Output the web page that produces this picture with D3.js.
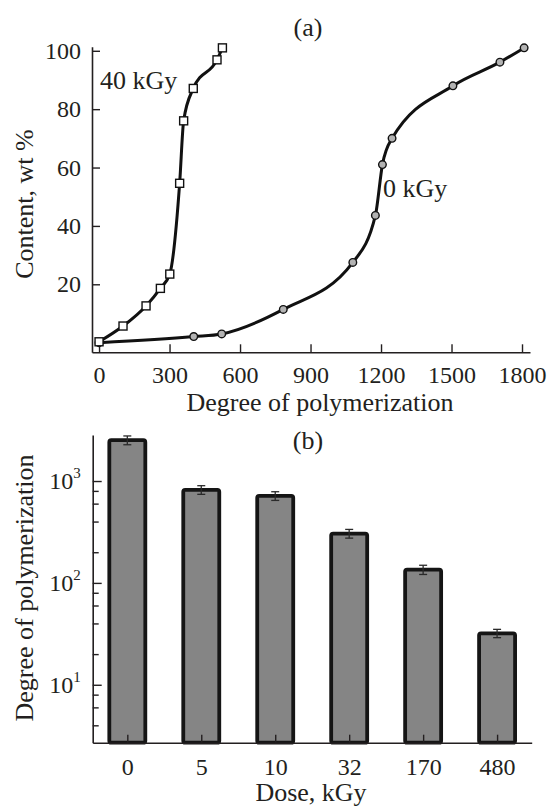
<!DOCTYPE html>
<html>
<head>
<meta charset="utf-8">
<script src="https://cdn.jsdelivr.net/npm/d3@7"></script>
<style>
  html, body { margin: 0; padding: 0; background: #fff; }
  svg { display: block; }
  text { font-family: "Liberation Serif", "Times New Roman", serif; fill: #231f20; }
</style>
</head>
<body>
<svg id="chart" width="549" height="808"></svg>
<script>
// ---------- Data: panel (a) ----------
const xTicksA = [0, 300, 600, 900, 1200, 1500, 1800];
const yTicksA = [20, 40, 60, 80, 100];
const dp40 = [0, 102, 200, 261, 301, 343, 360, 401, 502, 525];
const content40 = [0.3, 5.7, 12.6, 18.6, 23.5, 54.6, 76, 87.1, 96.9, 101];
const dp0 = [0, 403, 522, 784, 1080, 1176, 1206, 1247, 1506, 1706, 1809];
const content0 = [0, 2.1, 3, 11.4, 27.5, 43.6, 61, 70, 88, 96.1, 101];
const seriesLabels = ["40 kGy", "0 kGy"];

// ---------- Data: panel (b) ----------
const doses = ["0", "5", "10", "32", "170", "480"];
const dpValues = [2520, 820, 715, 305, 135, 32];
const dpErrors = [250, 80, 70, 30, 14, 3];
const yMajorB = [10, 100, 1000];
const yMinorB = [4, 6, 8, 20, 40, 60, 80, 200, 400, 600, 800];

const svg = d3.select("#chart");
const TICK_FS = 24, TITLE_FS = 26;
const ink = "#231f20";
const serif = '"Liberation Serif", "Times New Roman", serif';

// ================= Panel (a) =================
const xA = d3.scaleLinear().domain([-30, 1834]).range([92, 530]);
const yA = d3.scaleLinear().domain([-3.3, 101.4]).range([352.3, 46.7]);

const gA = svg.append("g");

const lineA = d3.line().x(d => xA(d[0])).y(d => yA(d[1])).curve(d3.curveMonotoneX);
const pts40 = dp40.map((d, i) => [d, content40[i]]);
const pts0 = dp0.map((d, i) => [d, content0[i]]);

gA.append("path").attr("d", lineA(pts0)).attr("fill", "none")
  .attr("stroke", "#111").attr("stroke-width", 3);
gA.append("path").attr("d", lineA(pts40)).attr("fill", "none")
  .attr("stroke", "#111").attr("stroke-width", 3);

const axA_x = gA.append("g").attr("transform", `translate(0,${yA.range()[0]})`)
  .call(d3.axisBottom(xA).tickValues(xTicksA).tickSizeInner(-8).tickSizeOuter(0).tickPadding(14).tickFormat(d3.format("d")));
const axA_y = gA.append("g").attr("transform", `translate(${xA.range()[0]},0)`)
  .call(d3.axisLeft(yA).tickValues(yTicksA).tickSizeInner(-8).tickSizeOuter(0).tickPadding(11));
[axA_x, axA_y].forEach(a => {
  a.selectAll("path.domain").attr("stroke", ink).attr("stroke-width", 1.6);
  a.selectAll(".tick line").attr("stroke", ink).attr("stroke-width", 1.4);
  a.selectAll("text").attr("font-size", TICK_FS).attr("fill", ink).style("font-family", serif);
});

gA.selectAll("circle.m0").data(pts0).join("circle").attr("class", "m0")
  .attr("cx", d => xA(d[0])).attr("cy", d => yA(d[1])).attr("r", 3.8)
  .attr("fill", "#b3b3b3").attr("stroke", "#111").attr("stroke-width", 1.4);
gA.selectAll("rect.m40").data(pts40).join("rect").attr("class", "m40")
  .attr("x", d => xA(d[0]) - 4).attr("y", d => yA(d[1]) - 4)
  .attr("width", 8).attr("height", 8)
  .attr("fill", "#fff").attr("stroke", "#111").attr("stroke-width", 1.4);

gA.append("text").attr("x", 100).attr("y", 89).attr("font-size", TITLE_FS).text(seriesLabels[0]);
gA.append("text").attr("x", 383).attr("y", 197).attr("font-size", TITLE_FS).text(seriesLabels[1]);
gA.append("text").attr("x", 308).attr("y", 36).attr("text-anchor", "middle").attr("font-size", TITLE_FS).text("(a)");

gA.append("text").attr("x", 320).attr("y", 411).attr("text-anchor", "middle")
  .attr("font-size", TITLE_FS).text("Degree of polymerization");
gA.append("text").attr("transform", "translate(33,204) rotate(-90)").attr("text-anchor", "middle")
  .attr("font-size", TITLE_FS).text("Content, wt %");

// ================= Panel (b) =================
const xB = d3.scalePoint().domain(doses).range([92.7, 531.7]).padding(0.468);
const yB = d3.scaleLog().domain([2.7, 2830]).range([742.7, 435]);
const barW = 36;

const gB = svg.append("g");

gB.selectAll("rect.bar").data(doses).join("rect").attr("class", "bar")
  .attr("x", d => xB(d) - barW / 2)
  .attr("y", (d, i) => yB(dpValues[i]))
  .attr("width", barW)
  .attr("height", (d, i) => yB.range()[0] - yB(dpValues[i]))
  .attr("rx", 2).attr("ry", 2)
  .attr("fill", "#858585").attr("stroke", "#151515").attr("stroke-width", 3.8)
  .attr("stroke-linejoin", "round");

const eb = gB.selectAll("g.err").data(doses).join("g").attr("class", "err");
eb.append("line")
  .attr("x1", d => xB(d)).attr("x2", d => xB(d))
  .attr("y1", (d, i) => yB(dpValues[i] + dpErrors[i]))
  .attr("y2", (d, i) => yB(dpValues[i] - dpErrors[i]))
  .attr("stroke", "#2a2a2a").attr("stroke-width", 1.3);
eb.append("line")
  .attr("x1", d => xB(d) - 4).attr("x2", d => xB(d) + 4)
  .attr("y1", (d, i) => yB(dpValues[i] + dpErrors[i]))
  .attr("y2", (d, i) => yB(dpValues[i] + dpErrors[i]))
  .attr("stroke", "#2a2a2a").attr("stroke-width", 1.3);
eb.append("line")
  .attr("x1", d => xB(d) - 4).attr("x2", d => xB(d) + 4)
  .attr("y1", (d, i) => yB(dpValues[i] - dpErrors[i]))
  .attr("y2", (d, i) => yB(dpValues[i] - dpErrors[i]))
  .attr("stroke", "#2a2a2a").attr("stroke-width", 1.3);

const axB_x = gB.append("g").attr("transform", `translate(0,${yB.range()[0]})`)
  .call(d3.axisBottom(xB).tickSizeInner(-8).tickSizeOuter(0).tickPadding(15));
const axB_y = gB.append("g").attr("transform", `translate(${xB.range()[0]},0)`)
  .call(d3.axisLeft(yB).tickValues(yMajorB).tickSizeInner(-9).tickSizeOuter(0).tickPadding(12).tickFormat(() => ""));
const axB_minor = gB.append("g").attr("transform", `translate(${xB.range()[0]},0)`)
  .call(d3.axisLeft(yB).tickValues(yMinorB).tickSizeInner(-6).tickSizeOuter(0).tickFormat(() => ""));
axB_minor.select("path.domain").remove();

axB_y.selectAll(".tick text").each(function(d) {
  const t = d3.select(this);
  t.text("");
  t.append("tspan").text("10");
  t.append("tspan").attr("class", "sup").attr("dy", "-0.75em").text(Math.round(Math.log10(d)));
});

[axB_x, axB_y, axB_minor].forEach(a => {
  a.selectAll("path.domain").attr("stroke", ink).attr("stroke-width", 1.6);
  a.selectAll(".tick line").attr("stroke", ink).attr("stroke-width", 1.4);
  a.selectAll("text").attr("font-size", TICK_FS).attr("fill", ink).style("font-family", serif);
});
axB_y.selectAll("tspan.sup").attr("font-size", 15);

gB.append("text").attr("x", 308).attr("y", 449).attr("text-anchor", "middle").attr("font-size", TITLE_FS).text("(b)");
gB.append("text").attr("x", 311).attr("y", 801).attr("text-anchor", "middle")
  .attr("font-size", TITLE_FS).text("Dose, kGy");
gB.append("text").attr("transform", "translate(33,588) rotate(-90)").attr("text-anchor", "middle")
  .attr("font-size", TITLE_FS).text("Degree of polymerization");
</script>
</body>
</html>
